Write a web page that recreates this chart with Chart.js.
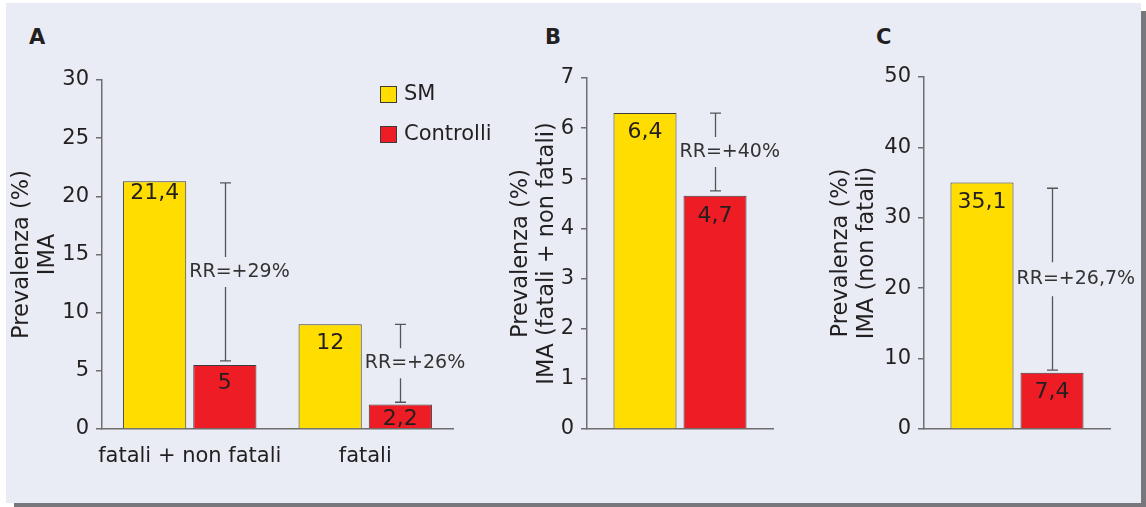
<!DOCTYPE html>
<html><head><meta charset="utf-8">
<script src="https://cdn.jsdelivr.net/npm/chart.js@4/dist/chart.umd.min.js"></script>
<style>
html,body{margin:0;padding:0;background:#fff;width:1146px;height:507px;overflow:hidden;font-family:"DejaVu Sans",sans-serif;}
#bg{position:absolute;left:6px;top:3px;width:1135px;height:500px;background:#e9ecf4;box-shadow:8px 8px 0 #78787c;}
canvas{position:absolute;left:0;top:0;}
.letter{position:absolute;font:bold 21px "DejaVu Sans",sans-serif;color:#231f20;line-height:1;}
</style></head>
<body>
<div id="bg"></div>
<div class="letter" style="left:29px;top:27px">A</div>
<div class="letter" style="left:545px;top:27px">B</div>
<div class="letter" style="left:876px;top:27px">C</div>
<canvas id="cA" width="1146" height="507"></canvas>
<canvas id="cB" width="1146" height="507"></canvas>
<canvas id="cC" width="1146" height="507"></canvas>
<script>
// ---- data ----
const seriesNames = ['SM', 'Controlli'];
const catA = ['fatali + non fatali', 'fatali'];
const smA = [21.3, 9.0];
const ctrlA = [5.5, 2.1];
const smLabelsA = ['21,4', '12'];
const ctrlLabelsA = ['5', '2,2'];
const rrTopA = [21.15, 9.0];
const rrBottomA = [5.85, 2.3];
const rrTextA = ['RR=+29%', 'RR=+26%'];

const catB = [''];
const smB = [6.3];
const ctrlB = [4.65];
const smLabelsB = ['6,4'];
const ctrlLabelsB = ['4,7'];
const rrTopB = [6.3];
const rrBottomB = [4.75];
const rrTextB = ['RR=+40%'];

const catC = [''];
const smC = [35.0];
const ctrlC = [8.0];
const smLabelsC = ['35,1'];
const ctrlLabelsC = ['7,4'];
const rrTopC = [34.2];
const rrBottomC = [8.35];
const rrTextC = ['RR=+26,7%'];

const titleA = ['Prevalenza (%)', 'IMA'];
const titleB = ['Prevalenza (%)', 'IMA (fatali + non fatali)'];
const titleC = ['Prevalenza (%)', 'IMA (non fatali)'];

// ---- style ----
const FONT = '"DejaVu Sans", Verdana, sans-serif';
const YELLOW = '#ffdd00', RED = '#ee1c25', EDGE = '#3c3c3c', AXIS = '#6e6e6e', TXT = '#231f20';

const annot = {
  id: 'annot',
  afterDatasetsDraw(chart, args, opts) {
    const ctx = chart.ctx, ys = chart.scales.y;
    ctx.save();
    // value labels
    opts.labels.forEach((arr, di) => {
      const meta = chart.getDatasetMeta(di);
      meta.data.forEach((bar, j) => {
        ctx.font = '22px ' + FONT; ctx.fillStyle = TXT;
        ctx.textAlign = 'center'; ctx.textBaseline = 'middle';
        ctx.fillText(arr[j], bar.x, bar.y + opts.offsets[di][j]);
      });
    });
    // RR bars
    const red = chart.getDatasetMeta(1);
    opts.rrTop.forEach((tv, j) => {
      const bar = red.data[j];
      const x = Math.round(bar.x) + 0.5;
      const yt = ys.getPixelForValue(tv), yb = ys.getPixelForValue(opts.rrBottom[j]);
      const mid = (yt + yb) / 2, gap = opts.gap;
      ctx.strokeStyle = '#555'; ctx.lineWidth = 1.3;
      ctx.beginPath();
      ctx.moveTo(x - 5.5, yt); ctx.lineTo(x + 5.5, yt);
      ctx.moveTo(x, yt); ctx.lineTo(x, mid - gap);
      ctx.moveTo(x, mid + gap); ctx.lineTo(x, yb);
      ctx.moveTo(x - 5.5, yb); ctx.lineTo(x + 5.5, yb);
      ctx.stroke();
      ctx.font = '19px ' + FONT; ctx.fillStyle = '#333';
      ctx.textAlign = 'left'; ctx.textBaseline = 'middle';
      ctx.fillText(opts.rrText[j], bar.x - bar.width / 2 - 4, mid);
    });
    // legend
    if (opts.legend) {
      chart.data.datasets.forEach((ds, i) => {
        const lx = 380, ly = 86 + i * 40;
        ctx.fillStyle = ds.backgroundColor; ctx.fillRect(lx, ly, 17, 17);
        ctx.strokeStyle = EDGE; ctx.lineWidth = 1; ctx.strokeRect(lx + 0.5, ly + 0.5, 16, 16);
        ctx.font = '21px ' + FONT; ctx.fillStyle = TXT;
        ctx.textAlign = 'left'; ctx.textBaseline = 'middle';
        ctx.fillText(ds.label, 404, ly + 9);
      });
    }
    ctx.restore();
  }
};

function makeChart(id, cfg) {
  return new Chart(document.getElementById(id), {
    type: 'bar',
    data: {
      labels: cfg.cats,
      datasets: [
        {label: seriesNames[0], data: cfg.sm, backgroundColor: YELLOW, borderColor: EDGE, borderWidth: 1,
         categoryPercentage: cfg.catPct, barPercentage: 0.9},
        {label: seriesNames[1], data: cfg.ctrl, backgroundColor: RED, borderColor: EDGE, borderWidth: 1,
         categoryPercentage: cfg.catPct, barPercentage: 0.9}
      ]
    },
    options: {
      responsive: false, animation: false, devicePixelRatio: 1,
      layout: {padding: {left: cfg.padL, right: cfg.padR, top: cfg.padT, bottom: 0}},
      plugins: {
        legend: {display: false}, tooltip: {enabled: false},
        annot: {labels: cfg.labels, offsets: cfg.offsets, rrTop: cfg.rrTop, rrBottom: cfg.rrBottom,
                rrText: cfg.rrText, gap: cfg.gap, legend: cfg.legend}
      },
      scales: {
        x: {
          grid: {display: false},
          border: {display: true, color: AXIS, width: 1.5},
          ticks: {color: TXT, font: {family: FONT, size: 21}, padding: 7, maxRotation: 0, autoSkip: false},
          afterFit(s) { s.height = 78; }
        },
        y: {
          min: 0, max: cfg.max,
          grid: {display: true, drawOnChartArea: false, color: AXIS, lineWidth: 1.5, tickLength: 6},
          border: {display: true, color: AXIS, width: 1.5},
          ticks: {stepSize: cfg.step, color: TXT, font: {family: FONT, size: 21}, padding: 7},
          title: {display: true, text: cfg.title, color: TXT, font: {family: FONT, size: 22.5, lineHeight: 1.15},
                  padding: {top: cfg.titlePad, bottom: 0}},
          afterFit(s) { s.width = cfg.yW; }
        }
      }
    },
    plugins: [annot]
  });
}

makeChart('cA', {cats: catA, sm: smA, ctrl: ctrlA, catPct: 0.8, padL: 0, yW: 102, padR: 1146 - 453, padT: 80,
  max: 30, step: 5, title: titleA, titlePad: 9, labels: [smLabelsA, ctrlLabelsA], offsets: [[12, 19], [18, 15]],
  rrTop: rrTopA, rrBottom: rrBottomA, rrText: rrTextA, gap: 15, legend: true});
makeChart('cB', {cats: catB, sm: smB, ctrl: ctrlB, catPct: 0.753, padL: 490, yW: 97, padR: 1146 - 773, padT: 78,
  max: 7, step: 1, title: titleB, titlePad: 18, labels: [smLabelsB, ctrlLabelsB], offsets: [[19], [20]],
  rrTop: rrTopB, rrBottom: rrBottomB, rrText: rrTextB, gap: 15, legend: false});
makeChart('cC', {cats: catC, sm: smC, ctrl: ctrlC, catPct: 0.753, padL: 820, yW: 104, padR: 1146 - 1110, padT: 77,
  max: 50, step: 10, title: titleC, titlePad: 8, labels: [smLabelsC, ctrlLabelsC], offsets: [[20], [20]],
  rrTop: rrTopC, rrBottom: rrBottomC, rrText: rrTextC, gap: 17, legend: false});
</script>
</body></html>
